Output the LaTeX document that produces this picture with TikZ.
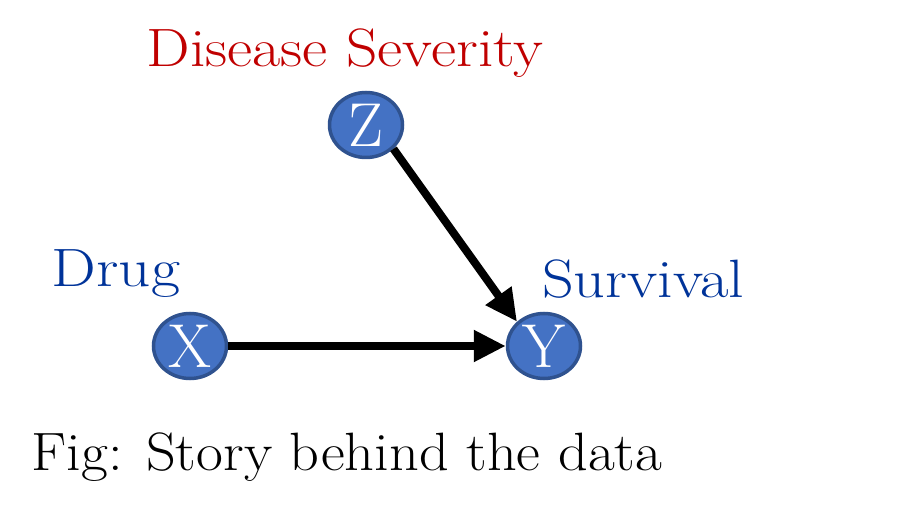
\documentclass[tikz,border=0pt]{standalone}
\usepackage{xcolor}
\usepackage{tikz}
\usetikzlibrary{arrows.meta,shapes.geometric}

\definecolor{sevred}{RGB}{192,0,0}
\definecolor{labblue}{RGB}{0,51,153}
\definecolor{varfill}{RGB}{68,114,196}
\definecolor{varline}{RGB}{47,82,143}

\newcommand{\widetext}[2]{\scalebox{#1}[1]{#2}}

\begin{document}
\begin{tikzpicture}[
x=1pt, y=1pt,
var/.style={ellipse, draw=varline, line width=3.5pt, fill=varfill, minimum width=73pt, minimum height=65pt, inner sep=0pt, text=white, font=\fontsize{62}{64}\selectfont},
lab/.style={anchor=base, font=\fontsize{54}{60}\selectfont},
arrow/.style={-{Triangle[length=32pt, width=30pt]}, line width=8pt, black}
]
\useasboundingbox (0,0) rectangle (909,517);
% variables
\node[var] (z) at (366,392) {Z};
\node[var] (x) at (190,171) {X};
\node[var] (y) at (544,171) {Y};
% labels
\node[lab, text=sevred] (sev) at (345,450) {\widetext{1.14}{Disease Severity}};
\node[lab, text=labblue] (drug) at (116,230) {\widetext{1.17}{Drug}};
\node[lab, text=labblue] (surv) at (643,219) {\widetext{1.15}{Survival}};
\node[lab, text=black] (cap) at (347,47) {\widetext{1.08}{Fig: Story behind the data}};
% edges
\draw[arrow] (x) -- (y);
\draw[arrow] (z.-41) -- (y.138);
\end{tikzpicture}
\end{document}
